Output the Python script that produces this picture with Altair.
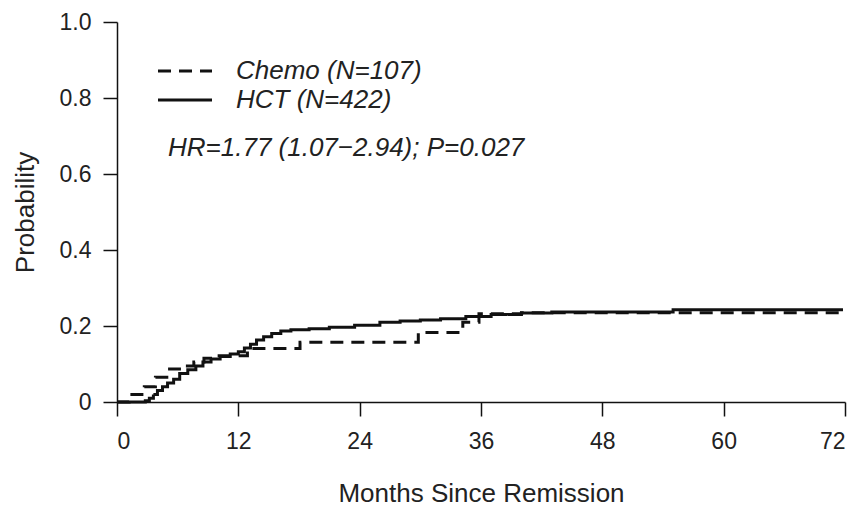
import altair as alt
import pandas as pd

# ---- data ----
groups = ["Chemo (N=107)", "HCT (N=422)"]

hct_months = [0, 2.8, 3.2, 3.6, 4.0, 4.5, 5.0, 5.6, 6.2, 7.0, 7.8, 8.5, 9.3, 10.2,
              11.2, 12.0, 12.6, 13.2, 13.8, 14.5, 15.3, 16.2, 17.2, 19.0, 21.0,
              23.5, 26.0, 28.0, 30.0, 32.0, 34.5, 37.0, 40.0, 43.0, 55.0, 71.8]
hct_prob = [0, 0.003, 0.01, 0.02, 0.03, 0.04, 0.05, 0.06, 0.075, 0.085, 0.095,
            0.105, 0.113, 0.12, 0.126, 0.132, 0.142, 0.152, 0.163, 0.172, 0.18,
            0.187, 0.19, 0.193, 0.197, 0.202, 0.21, 0.213, 0.216, 0.219, 0.225,
            0.23, 0.234, 0.237, 0.243, 0.243]

chemo_months = [0, 1.2, 2.7, 3.8, 5.2, 6.6, 7.6, 8.6, 9.4, 12.9, 18.1, 29.8,
                34.2, 35.8, 40.0, 71.8]
chemo_prob = [0, 0.02, 0.04, 0.065, 0.087, 0.095, 0.105, 0.115, 0.122, 0.141,
              0.157, 0.183, 0.21, 0.232, 0.235, 0.235]

x_ticks = [0, 12, 24, 36, 48, 60, 72]
y_ticks = [0, 0.2, 0.4, 0.6, 0.8, 1.0]
annotation = ["HR=1.77 (1.07\u22122.94); P=0.027"]

rows = []
for m, p in zip(chemo_months, chemo_prob):
    rows.append({"month": m, "prob": p, "group": groups[0]})
for m, p in zip(hct_months, hct_prob):
    rows.append({"month": m, "prob": p, "group": groups[1]})
df = pd.DataFrame(rows)

FONT = "Liberation Sans"
INK = "#111111"
TXT = "#222222"
DASH = [13, 8]

lines = alt.Chart(df).mark_line(
    interpolate="step-after", strokeWidth=3, color=INK
).encode(
    x=alt.X("month:Q",
            scale=alt.Scale(domain=[0, 72], nice=False),
            axis=alt.Axis(values=x_ticks, title="Months Since Remission",
                          labelPadding=14, titlePadding=27)),
    y=alt.Y("prob:Q",
            scale=alt.Scale(domain=[0, 1], nice=False),
            axis=alt.Axis(values=y_ticks, title="Probability",
                          labelExpr="datum.value == 0 ? '0' : format(datum.value, '.1f')",
                          labelPadding=12, titlePadding=21)),
    strokeDash=alt.StrokeDash(
        "group:N",
        scale=alt.Scale(domain=groups, range=[DASH, [1, 0]]),
        legend=None),
)

# manual legend (pixel positions inside the plot area)
leg_chemo_line = alt.Chart(pd.DataFrame({"g": [groups[0]]})).mark_rule(
    strokeWidth=3, color=INK, strokeDash=DASH
).encode(x=alt.value(41), x2=alt.value(95), y=alt.value(49))
leg_hct_line = alt.Chart(pd.DataFrame({"g": [groups[1]]})).mark_rule(
    strokeWidth=3, color=INK
).encode(x=alt.value(41), x2=alt.value(95), y=alt.value(78))

leg_text_style = dict(align="left", baseline="middle", font=FONT, fontSize=26,
                      fontStyle="italic", color=TXT)
leg_chemo_text = alt.Chart(pd.DataFrame({"g": [groups[0]]})).mark_text(
    **leg_text_style).encode(x=alt.value(119), y=alt.value(49), text="g:N")
leg_hct_text = alt.Chart(pd.DataFrame({"g": [groups[1]]})).mark_text(
    **leg_text_style).encode(x=alt.value(119), y=alt.value(78), text="g:N")

note = alt.Chart(pd.DataFrame({"text": annotation})).mark_text(
    **leg_text_style
).encode(x=alt.value(51), y=alt.value(126), text="text:N")

chart = alt.layer(
    lines, leg_chemo_line, leg_hct_line, leg_chemo_text, leg_hct_text, note
).properties(
    width=728, height=380,
    autosize=alt.AutoSizeParams(type="none"),
    padding={"left": 109, "top": 14, "right": 14, "bottom": 104},
).configure_view(stroke=None).configure_axis(
    grid=False,
    domainColor=INK, domainWidth=1.5,
    tickColor=INK, tickWidth=1.5, tickSize=14,
    labelFont=FONT, labelFontSize=23, labelColor=TXT,
    titleFont=FONT, titleFontSize=26, titleFontWeight="normal",
    titleColor=TXT,
)

chart.save("out.html", embed_options={"renderer": "svg", "actions": False})
